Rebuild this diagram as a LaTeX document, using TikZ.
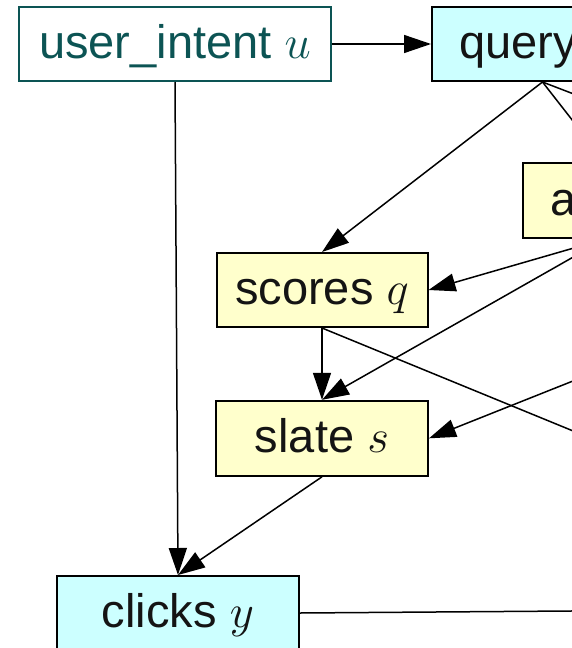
\RequirePackage{fix-cm}
\documentclass[tikz,border=0pt]{standalone}
\usepackage{fontspec}
\setmainfont{Liberation Sans}
\usetikzlibrary{arrows.meta}

\definecolor{tealink}{RGB}{12,84,84}
\definecolor{boxyellow}{RGB}{255,255,204}
\definecolor{boxcyan}{RGB}{204,255,255}
\definecolor{inkgray}{RGB}{20,20,20}

\tikzset{
  var/.style={draw=black, line width=2pt, text=inkgray,
    font=\fontsize{47}{56}\selectfont,
    text height=36pt, text depth=7pt, inner ysep=4pt, inner xsep=0pt},
  latent/.style={var, fill=boxyellow},
  observed/.style={var, fill=boxcyan},
  intent/.style={var, fill=white, draw=tealink, text=tealink},
  edge/.style={draw=black, line width=1.5pt,
    -{Triangle[length=27pt,width=18pt]}}
}

\begin{document}
\begin{tikzpicture}[x=1pt,y=-1pt]
\useasboundingbox (0,0) rectangle (572,648);
\clip (0,0) rectangle (572,648);

% variables
\node[intent, minimum width=312pt, minimum height=74pt] (u) at (175,44) {user\_intent $u$};
\node[observed, minimum height=74pt, text width=167pt, inner xsep=27pt, align=left] (x) at (542.5,44) {query};
\node[latent, minimum height=75pt, text width=110pt, inner xsep=27pt, align=left] (a) at (605,200.5) {a};
\node[latent, minimum width=211pt, minimum height=74pt] (q) at (322,290) {scores $q$};
\node[latent, minimum width=212pt, minimum height=75pt] (s) at (322,438.3) {slate $s$};
\node[observed, minimum width=242pt, minimum height=74pt] (y) at (178,613) {clicks $y$};

% links to variables further right
\coordinate (r1) at (800,181);
\coordinate (r2) at (800,524);
\coordinate (r3) at (800,290.6);
\coordinate (r4) at (800,609.3);

% edges
\draw[edge] (u.east) -- (x.west);
\draw[edge] (x.south) -- (q.north);
\draw[edge] (x.south) -- (a.north);
\draw[edge] (x.south) -- (r1);
\draw[edge] (a.south) -- (q.east);
\draw[edge] (a.south) -- (s.north);
\draw[edge] (q.south) -- (s.north);
\draw[edge] (q.south) -- (r2);
\draw[edge] (r3) -- (s.east);
\draw[edge] (u.south) -- (y.north);
\draw[edge] (s.south) -- (y.north);
\draw[edge] (y.east) -- (r4);
\end{tikzpicture}
\end{document}
